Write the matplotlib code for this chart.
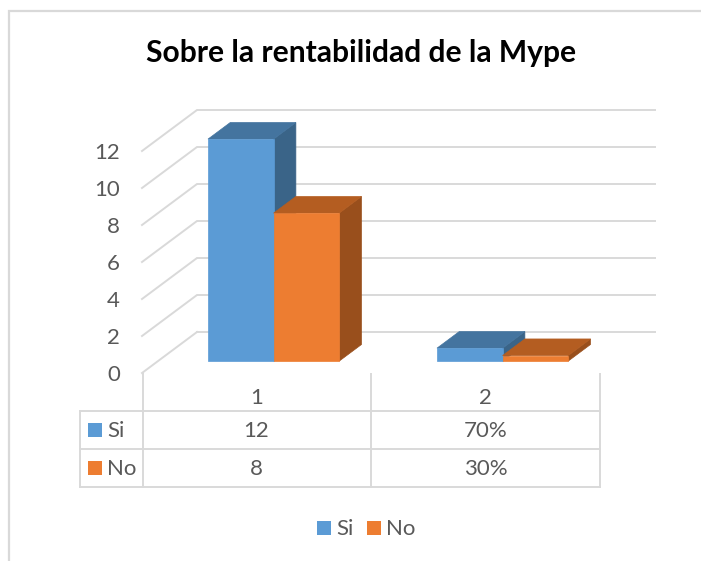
import matplotlib
matplotlib.use('Agg')
import matplotlib.pyplot as plt
from matplotlib.patches import Rectangle

title = 'Sobre la rentabilidad de la Mype'
categories = ['1', '2']
series_names = ['Si', 'No']
si_values = [12, 0.7]
no_values = [8, 0.3]
si_labels = ['12', '70%']
no_labels = ['8', '30%']
y_ticks = [0, 2, 4, 6, 8, 10, 12]

W, H = 701, 561
GRID = '#d9d9d9'
TEXT = '#595959'
FONT = 'Lato'
FS = 16
SI_COLORS = ['#5b9bd5', '#44749f', '#3a6488']
NO_COLORS = ['#ed7d31', '#b45d21', '#994f1c']

fig = plt.figure(figsize=(W / 100, H / 100), dpi=100, facecolor='white')

# overlay in pixel coords for frame, table and legend
over = fig.add_axes([0, 0, 1, 1])
over.set_xlim(0, W)
over.set_ylim(H, 0)
over.axis('off')

# main axes: y=0 at pixel 373, y=12 at pixel 151, categories 0.5..2.5 over 142..600
ax = fig.add_axes([142 / W, 1 - 373 / H, (600 - 142) / W, (373 - 151) / H])
ax.set_xlim(0.5, 2.5)
ax.set_ylim(0, 12)
ax.axis('off')
ax.patch.set_alpha(0)

depth_x = 55 / 229
depth_y = 41 / 18.5


def project(x, y, d):
    return x + d * depth_x, y + d * depth_y


def draw_bar(x0, x1, val, colors):
    d0, d1 = 0.29, 0.695
    front = [project(x0, 0, d0), project(x1, 0, d0), project(x1, val, d0), project(x0, val, d0)]
    top = [project(x0, val, d0), project(x1, val, d0), project(x1, val, d1), project(x0, val, d1)]
    side = [project(x1, 0, d0), project(x1, 0, d1), project(x1, val, d1), project(x1, val, d0)]
    for pts, c in zip([side, top, front], [colors[2], colors[1], colors[0]]):
        ax.fill([p[0] for p in pts], [p[1] for p in pts], color=c, lw=0.5, clip_on=False, zorder=3)


# walls
for t in y_ticks:
    xs, ys = zip(project(0.5, t, 0), project(0.5, t, 1), project(2.5, t, 1))
    if t == 0:
        xs, ys = zip(project(0.5, t, 0), project(0.5, t, 1))
    ax.plot(xs, ys, color=GRID, lw=1.4, clip_on=False, zorder=1, solid_joinstyle='miter')
    ax.annotate(str(t), (0.5, t), xytext=(-22, -2), textcoords='offset pixels', ha='right', va='center',
                fontsize=FS, color=TEXT, family=FONT, annotation_clip=False)
xs, ys = zip(project(0.5, 0, 1), project(2.5, 0, 1))
ax.plot(xs, ys, color=GRID, lw=1.4, clip_on=False, zorder=1)

bar_w = 0.2865
for i in range(len(categories)):
    c = i + 1 + 0.005
    draw_bar(c - bar_w, c, si_values[i], SI_COLORS)
    draw_bar(c, c + bar_w, no_values[i], NO_COLORS)

# chart frame, open on the right
over.plot([9, 9, W], [H, 11, 11], color=GRID, lw=1.6, solid_joinstyle='miter')

over.text(361, 53, title, ha='center', va='center', fontsize=21.6, fontweight='bold',
          color='black', family=FONT)

# data table
col_x = [80, 142.5, 371, 600]
row_y = [411, 449, 487]
for y in row_y:
    over.plot([col_x[0], col_x[-1]], [y, y], color=GRID, lw=1.4)
over.plot([80, 80], [411, 487], color=GRID, lw=1.4)
for x in col_x[1:]:
    over.plot([x, x], [374, 487], color=GRID, lw=1.4)

mid = [256.5, 485.5]
for i in range(2):
    over.text(mid[i], 397.5, categories[i], ha='center', va='center', fontsize=FS, color=TEXT, family=FONT)
    over.text(mid[i], 431, si_labels[i], ha='center', va='center', fontsize=FS, color=TEXT, family=FONT)
    over.text(mid[i], 469, no_labels[i], ha='center', va='center', fontsize=FS, color=TEXT, family=FONT)

key_y = [430, 468]
for i in range(2):
    color = [SI_COLORS[0], NO_COLORS[0]][i]
    over.add_patch(Rectangle((88, key_y[i] - 7), 14, 14, color=color, lw=0))
    over.text(107, key_y[i] + 1, series_names[i], ha='left', va='center', fontsize=FS, color=TEXT, family=FONT)

# legend
leg_x = [317, 367]
for i in range(2):
    color = [SI_COLORS[0], NO_COLORS[0]][i]
    over.add_patch(Rectangle((leg_x[i], 521), 14, 14, color=color, lw=0))
    over.text(leg_x[i] + 19, 529, series_names[i], ha='left', va='center', fontsize=FS, color=TEXT, family=FONT)

fig.savefig('out.png', dpi=100)
